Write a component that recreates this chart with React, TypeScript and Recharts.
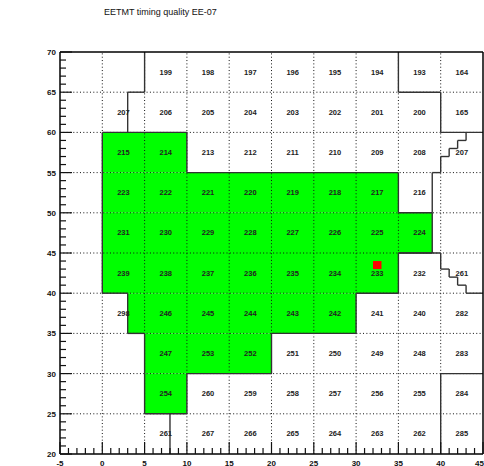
import React from "react";
import {
  ReferenceArea,
  ReferenceLine,
  Scatter,
  ScatterChart,
  XAxis,
  YAxis,
} from "recharts";

const title = "EETMT timing quality EE-07";

const xTickLabels = [-5, 0, 5, 10, 15, 20, 25, 30, 35, 40, 45];
const yTickLabels = [20, 25, 30, 35, 40, 45, 50, 55, 60, 65, 70];

const columnCenters = [-2.5, 2.5, 7.5, 12.5, 17.5, 22.5, 27.5, 32.5, 37.5, 42.5];
const rowCenters = [67.5, 62.5, 57.5, 52.5, 47.5, 42.5, 37.5, 32.5, 27.5, 22.5];

// tower ids per row (top to bottom), one per column, null = empty
const towerIds: (number | null)[][] = [
  [null, null, 199, 198, 197, 196, 195, 194, 193, 164],
  [null, 207, 206, 205, 204, 203, 202, 201, 200, 165],
  [null, 215, 214, 213, 212, 211, 210, 209, 208, 207],
  [null, 223, 222, 221, 220, 219, 218, 217, 216, null],
  [null, 231, 230, 229, 228, 227, 226, 225, 224, null],
  [null, 239, 238, 237, 236, 235, 234, 233, 232, 261],
  [null, 298, 246, 245, 244, 243, 242, 241, 240, 282],
  [null, null, 247, 253, 252, 251, 250, 249, 248, 283],
  [null, null, 254, 260, 259, 258, 257, 256, 255, 284],
  [null, null, 261, 267, 266, 265, 264, 263, 262, 285],
];

// good quality (green) blocks
const greenBlocks = [
  { x1: 0, x2: 10, y1: 55, y2: 60 },
  { x1: 0, x2: 35, y1: 50, y2: 55 },
  { x1: 0, x2: 39, y1: 45, y2: 50 },
  { x1: 0, x2: 35, y1: 40, y2: 45 },
  { x1: 3, x2: 30, y1: 35, y2: 40 },
  { x1: 5, x2: 20, y1: 30, y2: 35 },
  { x1: 5, x2: 10, y1: 25, y2: 30 },
];

// bad quality (red) bin
const redBlocks = [{ x1: 32, x2: 33, y1: 43, y2: 44 }];

// solid outlines (x, y pairs)
const outlines: number[][][] = [
  [[0, 60], [10, 60], [10, 55], [35, 55], [35, 50], [39, 50], [39, 45], [35, 45], [35, 40], [30, 40], [30, 35], [20, 35], [20, 30], [10, 30], [10, 25], [5, 25], [5, 35], [3, 35], [3, 40], [0, 40], [0, 60]],
  [[5, 70], [5, 65], [3, 65], [3, 60]],
  [[35, 70], [35, 65], [40, 65], [40, 60], [45, 60]],
  [[43, 60], [43, 59], [42, 59], [42, 58], [41, 58], [41, 57], [40, 57], [40, 55], [39, 55], [39, 50]],
  [[35, 45], [40, 45], [40, 43], [41, 43], [41, 42], [42, 42], [42, 41], [43, 41], [43, 40], [45, 40]],
  [[40, 20], [40, 30], [45, 30]],
  [[8, 20], [8, 25]],
];

const cells = towerIds.flatMap((row, r) =>
  row
    .map((id, c) => ({ x: columnCenters[c], y: rowCenters[r], id }))
    .filter((d) => d.id !== null)
);

const withMinor = (labels: number[]) => {
  const out: number[] = [];
  for (let v = labels[0]; v <= labels[labels.length - 1]; v++) out.push(v);
  return out;
};
const xTicks = withMinor(xTickLabels);
const yTicks = withMinor(yTickLabels);

const font = "'Liberation Sans', Arial, sans-serif";
const dotted = "1 2.33";
const lineColor = "#333";

const XTick = (props: any) => {
  const { x, y, payload } = props;
  const major = xTickLabels.includes(payload.value);
  // last label would run off the page edge, keep it inside
  const last = payload.value === xTickLabels[xTickLabels.length - 1];
  return (
    <g>
      <line x1={x} x2={x} y1={y} y2={y - (major ? 12 : 6)} stroke="#111" strokeWidth={1.2} />
      {major && (
        <text
          x={last ? x + 1 : x}
          y={y + 11.5}
          textAnchor={last ? "end" : "middle"}
          fontSize={8}
          fontWeight="bold"
          fontFamily={font}
          fill="#111"
        >
          {payload.value}
        </text>
      )}
    </g>
  );
};

const YTick = (props: any) => {
  const { x, y, payload } = props;
  const major = yTickLabels.includes(payload.value);
  return (
    <g>
      <line x1={x} x2={x + (major ? 12 : 6)} y1={y} y2={y} stroke="#111" strokeWidth={1.2} />
      {major && (
        <text x={x - 4} y={y + 3} textAnchor="end" fontSize={8} fontWeight="bold" fontFamily={font} fill="#111">
          {payload.value}
        </text>
      )}
    </g>
  );
};

const CellLabel = (props: any) => {
  const { cx, cy, payload } = props;
  return (
    <text x={cx} y={cy + 2.5} textAnchor="middle" fontSize={7.5} fontWeight="bold" fontFamily={font} fill="#222">
      {payload.id}
    </text>
  );
};

export default function App() {
  return (
    <div style={{ position: "absolute", left: 0, top: 0, width: 484, height: 466, background: "#fff" }}>
      <div style={{ position: "absolute", left: 104, top: 7, fontFamily: font, fontSize: 9, color: "#111", whiteSpace: "nowrap" }}>
        {title}
      </div>
      <ScatterChart width={484} height={466} margin={{ top: 52, right: 1, bottom: 0, left: 0 }}>
        <XAxis
          type="number"
          dataKey="x"
          domain={[-5, 45]}
          ticks={xTicks}
          interval={0}
          allowDataOverflow
          height={12}
          tickSize={0}
          tickMargin={0}
          tickLine={false}
          tick={<XTick />}
          axisLine={{ stroke: "#000", strokeWidth: 1.5 }}
        />
        <YAxis
          type="number"
          dataKey="y"
          domain={[20, 70]}
          ticks={yTicks}
          interval={0}
          allowDataOverflow
          width={60}
          tickSize={0}
          tickMargin={0}
          tickLine={false}
          tick={<YTick />}
          axisLine={{ stroke: "#000", strokeWidth: 1.5 }}
        />
        {greenBlocks.map((b, i) => (
          <ReferenceArea key={"g" + i} {...b} fill="#00ff00" fillOpacity={1} stroke="none" />
        ))}
        {redBlocks.map((b, i) => (
          <ReferenceArea key={"r" + i} {...b} fill="#ff0000" fillOpacity={1} stroke="none" />
        ))}
        {xTickLabels.slice(1, -1).map((v) => (
          <ReferenceLine key={"gx" + v} x={v} stroke="#111" strokeDasharray={dotted} />
        ))}
        {yTickLabels.slice(1, -1).map((v) => (
          <ReferenceLine key={"gy" + v} y={v} stroke="#111" strokeDasharray={dotted} />
        ))}
        {outlines.flatMap((pts, k) =>
          pts.slice(1).map((p, i) => (
            <ReferenceLine
              key={"o" + k + "-" + i}
              segment={[
                { x: pts[i][0], y: pts[i][1] },
                { x: p[0], y: p[1] },
              ]}
              stroke={lineColor}
              strokeWidth={1.4}
              ifOverflow="visible"
            />
          ))
        )}
        <ReferenceLine y={70} stroke="#000" strokeWidth={1.5} />
        <ReferenceLine x={45} stroke="#000" strokeWidth={1.5} />
        <Scatter data={cells} shape={<CellLabel />} isAnimationActive={false} />
      </ScatterChart>
    </div>
  );
}
